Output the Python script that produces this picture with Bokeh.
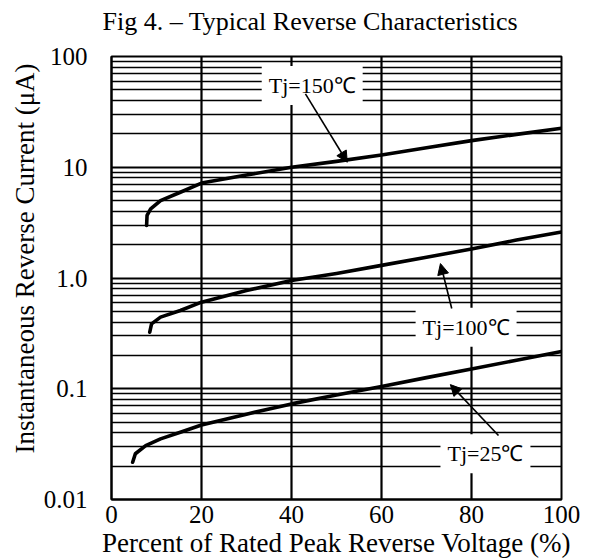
from bokeh.plotting import figure
from bokeh.models import FixedTicker, Label, Arrow, NormalHead, Title
from bokeh.embed import file_html
from bokeh.resources import INLINE

# ---- data ----
volt_150 = [7.8, 7.9, 8.7, 10.9, 15.3, 20, 30, 40, 50, 60, 70, 80, 90, 100]
curr_150 = [2.98, 3.67, 4.2, 5.0, 5.95, 7.2, 8.5, 10.0, 11.3, 12.9, 15.0, 17.4, 19.8, 22.5]

volt_100 = [8.5, 8.9, 10.9, 15.3, 20, 30, 40, 50, 60, 70, 80, 90, 100]
curr_100 = [0.324, 0.385, 0.443, 0.509, 0.605, 0.77, 0.95, 1.1, 1.30, 1.54, 1.83, 2.2, 2.6]

volt_25 = [4.7, 5.3, 7.6, 10.9, 15.3, 20, 30, 40, 50, 60, 70, 80, 90, 100]
curr_25 = [0.0217, 0.0259, 0.0307, 0.0353, 0.0405, 0.0470, 0.059, 0.073, 0.088, 0.105, 0.126, 0.151, 0.181, 0.217]

x_ticks = [0, 20, 40, 60, 80, 100]
y_ticks = [0.01, 0.1, 1, 10, 100]
y_tick_labels = ["0.01", "0.1", "1.0", "10", "100"]
series_labels = ["Tj=150\u2103", "Tj=100\u2103", "Tj=25\u2103"]
chart_title = "Fig 4.  \u2013  Typical Reverse Characteristics"

FONT = "Liberation Serif"

p = figure(width=586, height=560, x_range=(0, 100), y_range=(0.01, 100),
           y_axis_type="log", output_backend="svg", toolbar_location=None,
           min_border_left=111, min_border_right=25, min_border_top=56,
           min_border_bottom=61)

minor = [m * 10.0 ** e for e in range(-2, 2) for m in range(2, 10)]
yt = FixedTicker(ticks=y_ticks, minor_ticks=minor)
p.yaxis.ticker = yt
p.ygrid.ticker = yt
p.xaxis.ticker = FixedTicker(ticks=x_ticks)
p.xgrid.ticker = FixedTicker(ticks=x_ticks)
p.yaxis.major_label_overrides = {v: s for v, s in zip(y_ticks, y_tick_labels)}

for ax in (p.xaxis, p.yaxis):
    ax.major_tick_line_color = None
    ax.minor_tick_line_color = None
    ax.major_tick_out = 0
    ax.minor_tick_out = 0
    ax.major_tick_in = 0
    ax.minor_tick_in = 0
    ax.axis_line_color = "black"
    ax.axis_line_width = 2
    ax.major_label_text_font = FONT
    ax.major_label_text_font_size = "25px"
    ax.major_label_text_color = "black"

p.xaxis.major_label_standoff = 6
p.yaxis.major_label_standoff = 24

p.xaxis.axis_label = "Percent of Rated Peak Reverse Voltage (%)"
p.xaxis.axis_label_text_font = FONT
p.xaxis.axis_label_text_font_size = "27px"
p.xaxis.axis_label_text_font_style = "normal"
p.xaxis.axis_label_text_color = "black"
p.xaxis.axis_label_standoff = 2

p.add_layout(Title(text="Instantaneous Reverse Current (\u03bcA)", align="left",
                   offset=46, text_font=FONT, text_font_size="27px",
                   text_font_style="normal", text_color="black", standoff=2), "left")

# spacer between frame and title (keeps the title near the top edge)
p.add_layout(Title(text=" ", text_font_size="1px", standoff=16), "above")
p.add_layout(Title(text=chart_title, align="left", offset=-9, text_font=FONT,
                   text_font_size="26px", text_font_style="normal",
                   text_color="black", standoff=4), "above")
p.title.text = ""

p.xgrid.grid_line_color = "black"
p.xgrid.grid_line_width = 2.2
p.xgrid.grid_line_alpha = 1
p.ygrid.grid_line_color = "black"
p.ygrid.grid_line_width = 2
p.ygrid.grid_line_alpha = 1
p.ygrid.minor_grid_line_color = "black"
p.ygrid.minor_grid_line_width = 1.7

p.outline_line_color = "black"
p.outline_line_width = 2
p.background_fill_color = "white"
p.border_fill_color = "white"

for xs, ys in ((volt_150, curr_150), (volt_100, curr_100), (volt_25, curr_25)):
    p.line(xs, ys, line_color="black", line_width=3.6, line_cap="round", line_join="round")

label_pos = [(44.6, 54.7), (78.8, 0.36), (83.1, 0.0259)]
for (lx, ly), txt in zip(label_pos, series_labels):
    p.add_layout(Label(x=lx, y=ly, text=txt, text_align="center", text_baseline="middle",
                       text_font=FONT, text_font_size="22px", text_color="black",
                       background_fill_color="white", padding=7))

arrows = [((43.1, 46.0), (52.4, 11.1)), ((75.6, 0.531), (73.1, 1.35)), ((86.0, 0.0378), (75.3, 0.109))]
for (x0, y0), (x1, y1) in arrows:
    p.add_layout(Arrow(x_start=x0, y_start=y0, x_end=x1, y_end=y1, line_width=1.6,
                       line_color="black",
                       end=NormalHead(size=11, fill_color="black", line_color="black")))

open("out.html", "w").write(file_html(p, INLINE))
